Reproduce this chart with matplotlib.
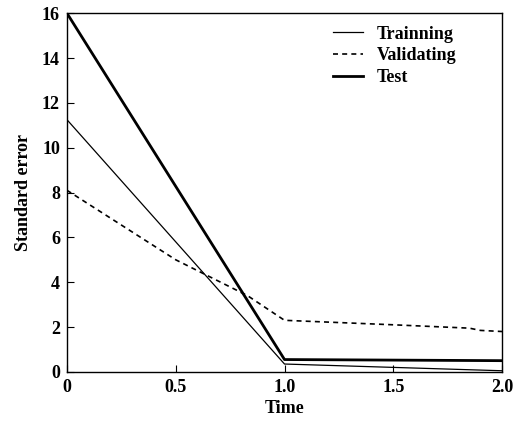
import matplotlib
matplotlib.use('Agg')
import matplotlib.pyplot as plt

# values
train_t = [0, 1.0, 1.5, 2.0]
train_err = [11.25, 0.35, 0.2, 0.05]

valid_t = [0, 0.5, 0.83, 1.0, 1.5, 1.85, 1.9, 2.0]
valid_err = [8.1, 5.0, 3.4, 2.3, 2.1, 1.95, 1.85, 1.8]

test_t = [0, 1.0, 2.0]
test_err = [16.0, 0.55, 0.5]

xticks = [0, 0.5, 1.0, 1.5, 2.0]
xtick_labels = ['0', '0.5', '1.0', '1.5', '2.0']
yticks = [0, 2, 4, 6, 8, 10, 12, 14, 16]

plt.rcParams['font.family'] = ['Liberation Serif', 'DejaVu Serif']
plt.rcParams['font.weight'] = 'bold'

fig = plt.figure(figsize=(5.23, 4.25), dpi=100)
ax = fig.add_axes([0.128, 0.125, 0.832, 0.844])

ax.plot(train_t, train_err, color='black', lw=0.9, label='Trainning')
ax.plot(valid_t, valid_err, color='black', lw=1.2, ls=(0, (3, 2.5)), label='Validating')
ax.plot(test_t, test_err, color='black', lw=2.0, label='Test')

ax.set_xlim(0, 2.0)
ax.set_ylim(0, 16)
ax.set_xticks(xticks)
ax.set_xticklabels(xtick_labels)
ax.set_yticks(yticks)
ax.tick_params(direction='in', length=5, labelsize=13, width=0.8, pad=5)
for s in ax.spines.values():
    s.set_linewidth(1.0)

ax.set_xlabel('Time', fontsize=13, fontweight='bold', labelpad=3)
ax.set_ylabel('Standard error', fontsize=13, fontweight='bold', labelpad=7)

ax.legend(loc='upper right', frameon=False, fontsize=13, handlelength=1.65,
          labelspacing=0.25, borderaxespad=0.3, bbox_to_anchor=(0.925, 1.0))

fig.savefig('out.png', dpi=100)
